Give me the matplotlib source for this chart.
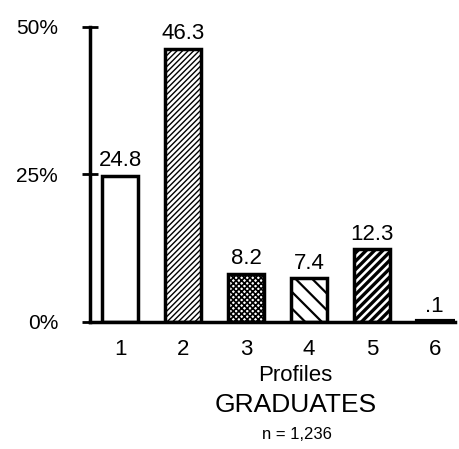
import matplotlib.pyplot as plt
import numpy as np

plt.rcParams['font.family'] = ['Liberation Sans', 'DejaVu Sans']

profiles = ['1', '2', '3', '4', '5', '6']
values = [24.8, 46.3, 8.2, 7.4, 12.3, 0.1]
value_labels = ['24.8', '46.3', '8.2', '7.4', '12.3', '.1']
hatches = ['', '//////', 'xxxxxx', '\\\\', '////', '']
hatch_widths = [1.0, 1.0, 1.2, 1.6, 2.4, 1.0]
y_ticks = [0, 25, 50]
y_labels = ['0%', '25%', '50%']

fig = plt.figure(figsize=(4.59, 4.49), dpi=100)
ax = fig.add_axes([0.196, 0.283, 0.795, 0.657])

x = np.arange(1, len(values) + 1)
bars = ax.bar(x, values, width=0.57, color='white', edgecolor='black',
              linewidth=2.5)
for b, h, hw in zip(bars, hatches, hatch_widths):
    if h:
        b.set_hatch(h)
        if hasattr(b, 'set_hatch_linewidth'):
            b.set_hatch_linewidth(hw)
bars[-1].set_facecolor('black')
bars[-1].set_linewidth(3)

# value labels above the bars
for xi, v, lab in zip(x, values, value_labels):
    ax.text(xi, v + 0.8, lab, ha='center', va='bottom', fontsize=16)

ax.set_xlim(0.52, 6.32)
ax.set_ylim(0, 50)
ax.set_yticks(y_ticks)
ax.set_yticklabels(y_labels, fontsize=15)
ax.set_xticks(x)
ax.set_xticklabels(profiles, fontsize=16)
ax.tick_params(axis='x', length=0, pad=12)
ax.tick_params(axis='y', direction='inout', length=12, width=2, pad=17)

for s in ['top', 'right']:
    ax.spines[s].set_visible(False)
ax.spines['left'].set_linewidth(2.5)
ax.spines['bottom'].set_linewidth(2.5)

fig.text(0.643, 0.163, 'Profiles', ha='center', va='center', fontsize=16)
fig.text(0.645, 0.098, 'GRADUATES', ha='center', va='center', fontsize=19)
fig.text(0.647, 0.033, 'n = 1,236', ha='center', va='center', fontsize=12)

plt.savefig('out.png')
